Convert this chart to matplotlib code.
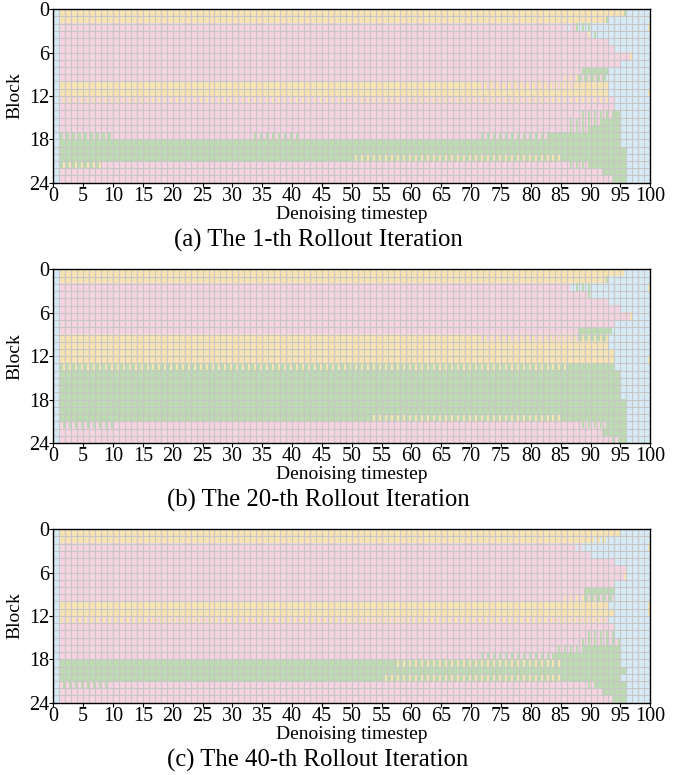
import numpy as np
import matplotlib
matplotlib.use("Agg")
import matplotlib.pyplot as plt
from matplotlib.colors import ListedColormap

plt.rcParams['font.family'] = ['Liberation Serif', 'DejaVu Serif']
plt.rcParams['mathtext.fontset'] = 'stix'

# colour states: B = skip / blue, Y = yellow, P = pink, G = green
# two-letter code = mixed cell (main colour, then the sliver colour)
state_names = ['B', 'Y', 'P', 'G']
state_colors = ['#d6eaf6', '#f8e3b4', '#f5d3e0', '#bddbb0']

# each row = run-length list "code:count", counts add up to 100 timesteps
rows_iter1 = [
    "B:1 Y:94 YG:1 B:4",
    "B:1 Y:91 YG:1 B:7",
    "B:1 P:85 BP:1 PG:1 BG:2 B:9 BY:1",
    "B:1 P:88 PY:1 BG:1 B:9",
    "B:1 P:92 B:7",
    "B:1 P:93 B:6",
    "B:1 P:95 PY:1 B:3",
    "B:1 P:94 B:5",
    "B:1 P:87 PG:1 G:4 B:7",
    "B:1 P:84 PY:3 GP:4 GB:1 B:7",
    "B:1 Y:70 YP:16 Y:6 B:7",
    "B:1 Y:92 B:6 BY:1",
    "B:1 PY:92 P:1 B:6",
    "B:1 P:93 B:6",
    "B:1 P:87 PG:6 G:1 B:5",
    "B:1 P:85 PG:6 G:3 B:5",
    "B:1 P:85 PG:4 G:5 B:5",
    "B:1 GP:9 P:23 PG:8 P:30 PG:12 G:12 B:5",
    "B:1 G:94 B:5",
    "B:1 G:95 B:4",
    "B:1 G:49 GY:35 G:11 B:4",
    "B:1 GY:7 P:78 PG:4 G:6 B:4",
    "B:1 P:91 G:4 B:4",
    "B:1 P:92 PG:1 G:2 B:4",
]

rows_iter20 = [
    "B:1 Y:94 YB:1 B:4",
    "B:1 Y:91 YG:1 B:7",
    "B:1 P:85 PB:1 BG:3 B:9 BY:1",
    "B:1 P:88 PG:1 B:10",
    "B:1 P:92 B:7",
    "B:1 P:94 B:5",
    "B:1 P:95 PY:1 B:3",
    "B:1 P:93 B:6",
    "B:1 P:87 G:5 GB:1 B:6",
    "B:1 Y:70 YP:17 GY:5 B:7",
    "B:1 Y:92 B:7",
    "B:1 Y:93 B:6",
    "B:1 Y:93 B:5 BY:1",
    "B:1 GY:85 G:8 B:6",
    "B:1 G:94 B:5",
    "B:1 G:94 B:5",
    "B:1 G:94 B:5",
    "B:1 G:94 B:5",
    "B:1 G:95 B:4",
    "B:1 G:95 B:4",
    "B:1 G:52 GY:32 G:11 B:4",
    "B:1 PG:9 P:78 PG:5 G:3 B:4",
    "B:1 P:91 G:4 B:4",
    "B:1 P:92 PG:2 G:1 B:4",
]

rows_iter40 = [
    "B:1 Y:94 B:5",
    "B:1 Y:89 YB:3 B:7",
    "B:1 P:86 PB:2 B:10 BY:1",
    "B:1 P:89 B:10",
    "B:1 P:93 B:6",
    "B:1 P:95 B:4",
    "B:1 P:94 PY:1 B:4",
    "B:1 P:93 B:6",
    "B:1 P:88 G:5 B:6",
    "B:1 P:84 PY:4 GP:5 B:6",
    "B:1 Y:92 B:6 BY:1",
    "B:1 Y:93 B:5 BY:1",
    "B:1 YP:92 B:7",
    "B:1 P:93 B:6",
    "B:1 P:88 PG:5 B:6",
    "B:1 P:87 PG:7 B:5",
    "B:1 P:83 PG:5 G:6 B:5",
    "B:1 P:70 PG:13 G:11 B:5",
    "B:1 G:56 GY:28 G:10 B:5",
    "B:1 G:95 B:4",
    "B:1 G:54 GY:30 G:10 B:5",
    "B:1 PG:8 P:80 PG:2 G:5 B:4",
    "B:1 P:91 G:4 B:4",
    "B:1 P:92 PG:1 G:2 B:4",
]

captions = ["(a) The 1-th Rollout Iteration",
            "(b) The 20-th Rollout Iteration",
            "(c) The 40-th Rollout Iteration"]
x_ticks = list(range(0, 101, 5))
y_ticks = [0, 6, 12, 18, 24]

SUB = 3  # sub-cells per timestep for mixed cells


def decode(rows):
    grid = []
    for row in rows:
        line = []
        for tok in row.split():
            code, n = tok.split(":")
            main = state_names.index(code[0])
            other = state_names.index(code[-1])
            cell = [main] * (SUB - 1) + [other]
            line += cell * int(n)
        grid.append(line)
    return np.array(grid)


fig = plt.figure(figsize=(6.78, 7.75), dpi=100)
cmap = ListedColormap(state_colors)

bottoms = [0.7643, 0.4284, 0.0933]
for rows, cap, b in zip([rows_iter1, rows_iter20, rows_iter40], captions, bottoms):
    ax = fig.add_axes([0.0786, b, 0.8805, 0.2239])
    data = decode(rows)
    ax.imshow(data, cmap=cmap, vmin=-0.5, vmax=3.5, aspect='auto',
              interpolation='nearest', extent=(0, 100, 24, 0))
    ax.vlines(np.arange(1, 100), 0, 24, color='#c6c6c6', lw=0.8)
    ax.hlines(np.arange(1, 24), 0, 100, color='#c6c6c6', lw=0.8)
    ax.set_xlim(0, 100)
    ax.set_ylim(24, 0)
    ax.set_xticks(x_ticks)
    ax.set_yticks(y_ticks)
    ax.tick_params(labelsize=14.5, length=3, width=0.8, pad=0)
    for s in ax.spines.values():
        s.set_linewidth(1.0)
    ax.set_xlabel("Denoising timestep", fontsize=14, labelpad=0)
    ax.set_ylabel("Block", fontsize=14, labelpad=4)
    fig.text(0.469, b - 0.074, cap, ha='center', va='center', fontsize=17.8)

fig.savefig("out.png", dpi=100)
